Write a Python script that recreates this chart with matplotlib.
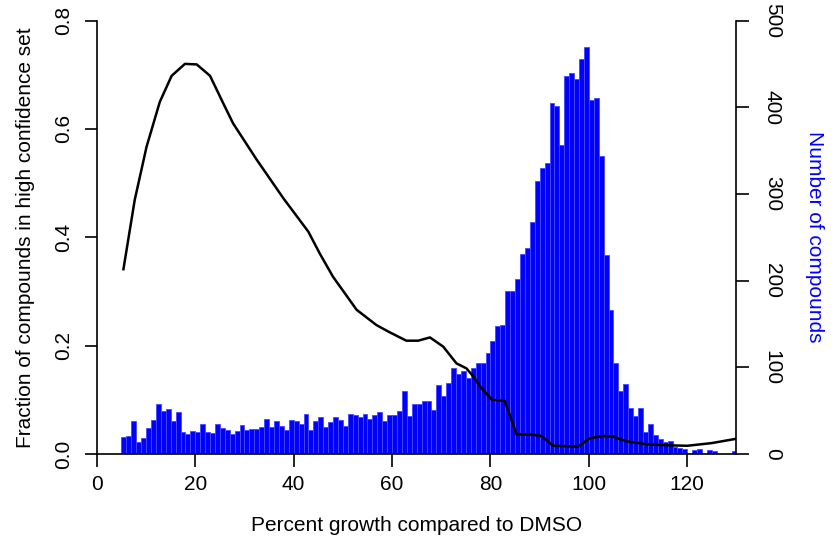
import numpy as np
import matplotlib
matplotlib.use("Agg")
from matplotlib import pyplot as plt

plt.rcParams['font.family'] = ['Liberation Sans', 'DejaVu Sans']

# histogram of percent growth, one bin per unit starting at 5
bin_start = 5
counts = [19, 21, 38, 14, 18, 30, 39, 58, 50, 52,
          38, 48, 25, 23, 26, 25, 34, 25, 24, 34,
          30, 27, 23, 26, 33, 27, 29, 29, 31, 40,
          31, 38, 32, 28, 39, 38, 34, 46, 27, 38,
          43, 31, 37, 42, 39, 32, 46, 45, 43, 46,
          40, 45, 48, 38, 45, 45, 50, 72, 44, 57,
          58, 61, 61, 51, 79, 67, 82, 99, 92, 96,
          87, 99, 105, 105, 116, 130, 148, 149, 188, 188,
          202, 231, 238, 268, 315, 330, 336, 405, 401, 356,
          436, 439, 433, 456, 470, 408, 411, 344, 229, 166,
          105, 73, 81, 53, 44, 53, 25, 34, 22, 17,
          14, 15, 8, 7, 6, 0, 4, 6, 0, 4,
          3, 0, 0, 0, 3]

# fraction of compounds in the high confidence set
frac_x = [5.4, 7.7, 10.1, 12.8, 15.2, 17.9, 20.3, 23.0, 25.7, 27.7,
          32.5, 37.9, 43.0, 45.3, 48.0, 52.8, 56.8, 59.2, 62.9, 65.3,
          67.7, 70.4, 73.1, 75.1, 76.5, 78.2, 80.3, 82.9, 85.3, 88.0,
          90.4, 92.7, 97.8, 100.2, 102.9, 104.9, 107.7, 111.7, 115.4, 120.0,
          125.0, 130.0]
frac_y = [0.341, 0.469, 0.567, 0.650, 0.698, 0.720, 0.719, 0.698, 0.647, 0.610,
          0.543, 0.472, 0.410, 0.370, 0.327, 0.266, 0.238, 0.226, 0.209, 0.209,
          0.215, 0.198, 0.167, 0.158, 0.143, 0.121, 0.100, 0.098, 0.036, 0.036,
          0.033, 0.015, 0.0135, 0.029, 0.033, 0.032, 0.023, 0.018, 0.016, 0.015,
          0.020, 0.028]

x_ticks = [0, 20, 40, 60, 80, 100, 120]
frac_ticks = [0.0, 0.2, 0.4, 0.6, 0.8]
count_ticks = [0, 100, 200, 300, 400, 500]

fs = 15
fig = plt.figure(figsize=(8.35, 5.41), dpi=100)
ax = fig.add_axes([0.116, 0.161, 0.766, 0.801])
ax2 = ax.twinx()
ax.set_zorder(ax2.get_zorder() + 1)
ax.patch.set_visible(False)

left_edges = bin_start + np.arange(len(counts))
ax2.bar(left_edges, counts, width=1.0, align='edge', color='#0000ff',
        edgecolor='#4848ff', linewidth=0.6)
ax.plot(frac_x, frac_y, color='black', linewidth=1.8)

ax.set_xlim(0, 130)
ax.set_ylim(0, 0.8)
ax2.set_ylim(0, 500)

ax.set_xticks(x_ticks)
ax.set_yticks(frac_ticks)
ax.set_yticklabels(['%.1f' % v for v in frac_ticks], rotation=90, va='center')
ax2.set_yticks(count_ticks)
ax2.set_yticklabels([str(v) for v in count_ticks], rotation=-90, va='center')

for a in (ax, ax2):
    a.spines['top'].set_visible(False)
    a.tick_params(direction='out', length=9, width=1.2, labelsize=fs, colors='black')
    for s in a.spines.values():
        s.set_linewidth(1.2)
ax.spines['right'].set_visible(False)
ax2.spines['left'].set_visible(False)
ax2.spines['bottom'].set_visible(False)
ax.tick_params(axis='x', pad=6)
ax.tick_params(axis='y', pad=8)
ax2.tick_params(axis='y', pad=10)

ax.set_xlabel('Percent growth compared to DMSO', fontsize=fs, labelpad=16)
ax.set_ylabel('Fraction of compounds in high confidence set', fontsize=fs, labelpad=14)
ax2.set_ylabel('Number of compounds', fontsize=fs, color='#0000ff',
               rotation=-90, labelpad=30)

fig.savefig('out.png', dpi=100)
